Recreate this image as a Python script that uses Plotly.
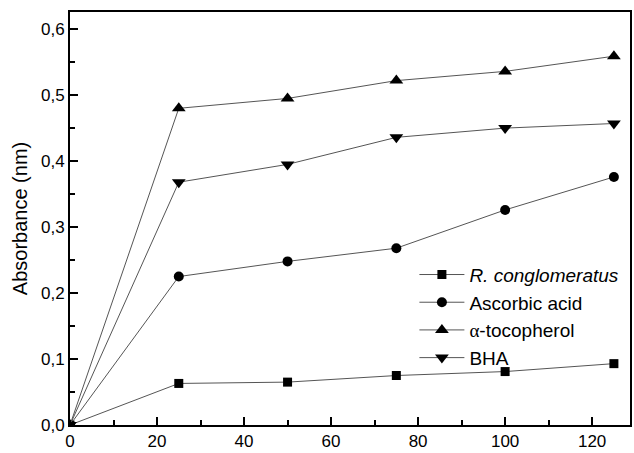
import plotly.graph_objects as go

x_vals = [0, 25, 50, 75, 100, 125]
r_conglomeratus = [0.0, 0.063, 0.065, 0.075, 0.081, 0.093]
ascorbic_acid = [0.0, 0.225, 0.248, 0.268, 0.326, 0.376]
alpha_tocopherol = [0.0, 0.480, 0.495, 0.522, 0.536, 0.559]
bha = [0.0, 0.368, 0.395, 0.436, 0.450, 0.457]

series = [
    ("<i>R. conglomeratus</i>", r_conglomeratus, "square", 9),
    ("Ascorbic acid", ascorbic_acid, "circle", 10),
    ("<span style=\"font-family:'Liberation Serif'\">α</span>-tocopherol", alpha_tocopherol, "triangle-up", 12),
    ("BHA", bha, "triangle-down", 12),
]

fig = go.Figure()
for name, ys, sym, size in series:
    fig.add_trace(go.Scatter(
        x=x_vals, y=ys, name=name, mode="lines+markers",
        line=dict(color="#555555", width=1),
        marker=dict(symbol=sym, size=size, color="black", line=dict(width=0)),
    ))

axis_common = dict(
    showline=True, linecolor="black", linewidth=2, mirror=True,
    ticks="inside", ticklen=8, tickwidth=2, tickcolor="black",
    showgrid=False, zeroline=False,
    tickfont=dict(family="Liberation Sans, Arial", size=17, color="black"),
)

fig.update_xaxes(range=[0, 128.7], dtick=20, tick0=0,
                 minor=dict(ticks="inside", ticklen=5, tickwidth=1.5, dtick=10, tickcolor="black"),
                 **axis_common)
fig.update_yaxes(range=[0, 0.626], dtick=0.1, tick0=0, tickformat=".1f",
                 minor=dict(ticks="inside", ticklen=5, tickwidth=1.5, dtick=0.05, tickcolor="black"),
                 title=dict(text="Absorbance (nm)", font=dict(family="Liberation Sans, Arial", size=20, color="black"), standoff=8),
                 **axis_common)

fig.update_layout(
    width=634, height=453,
    margin=dict(l=70, r=2, t=12, b=26),
    plot_bgcolor="white", paper_bgcolor="white",
    separators=",.",
    showlegend=True,
    legend=dict(x=0.615, y=0.41, xanchor="left", yanchor="top",
                font=dict(family="Liberation Sans, Arial", size=19, color="black"),
                bgcolor="rgba(0,0,0,0)", tracegroupgap=0, itemwidth=45),
)

fig.write_html("out.html")
